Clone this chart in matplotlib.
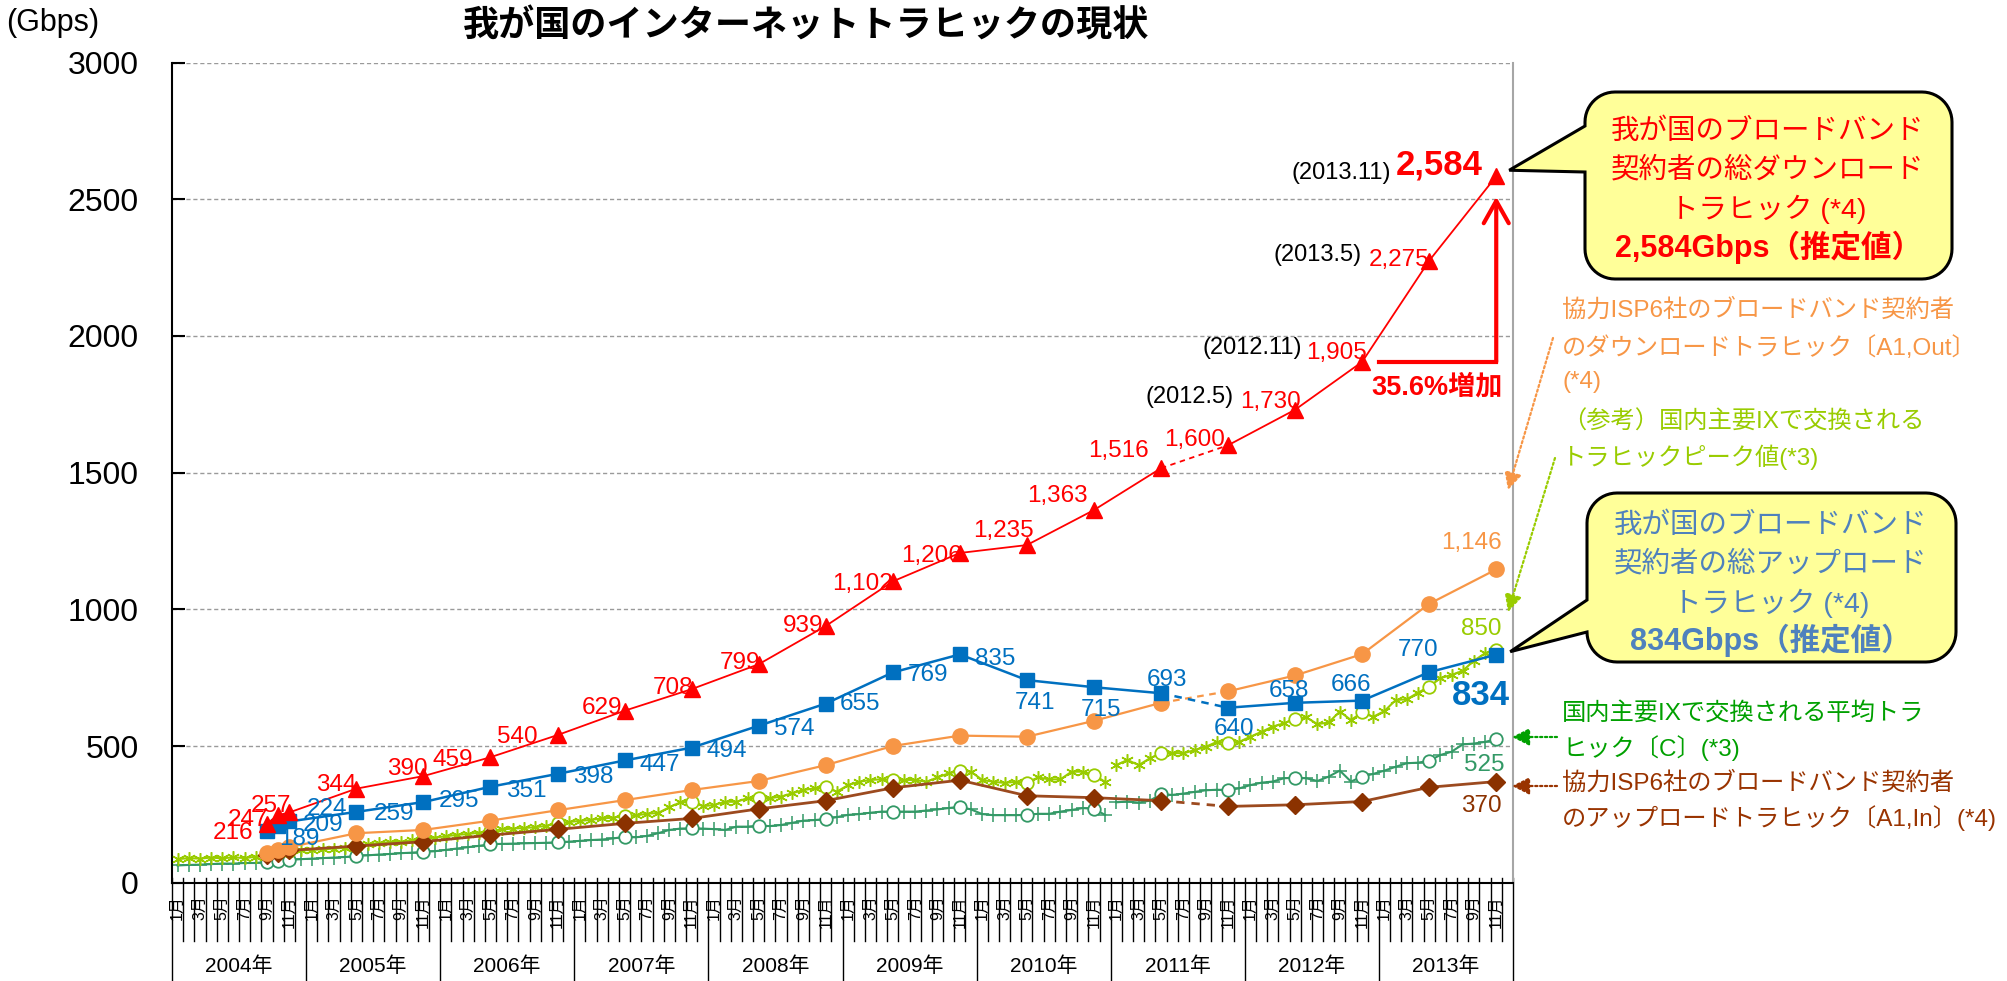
import numpy as np
import matplotlib.pyplot as plt
from matplotlib.patches import Polygon, FancyArrowPatch
from matplotlib.transforms import IdentityTransform

plt.rcParams['font.family'] = ['Liberation Sans', 'Noto Sans CJK JP']
JP = ['Noto Sans CJK JP', 'Liberation Sans']

# ---- data -------------------------------------------------------------
years = ['2004年', '2005年', '2006年', '2007年', '2008年',
         '2009年', '2010年', '2011年', '2012年', '2013年']
month_labels = ['1月', '', '3月', '', '5月', '', '7月', '', '9月', '', '11月', '']

# survey points (year.month)
survey = ['2004.9', '2004.10', '2004.11', '2005.5', '2005.11', '2006.5', '2006.11',
          '2007.5', '2007.11', '2008.5', '2008.11', '2009.5', '2009.11',
          '2010.5', '2010.11', '2011.5', '2011.11', '2012.5', '2012.11',
          '2013.5', '2013.11']
down_total = [216, 247, 257, 344, 390, 459, 540, 629, 708, 799, 939, 1102, 1206,
              1235, 1363, 1516, 1600, 1730, 1905, 2275, 2584]
up_total = [189, 209, 224, 259, 295, 351, 398, 447, 494, 574, 655, 769, 835,
            741, 715, 693, 640, 658, 666, 770, 834]
isp_down = [110, 121, 130, 181, 193, 227, 265, 302, 339, 372, 430, 500, 538,
            534, 592, 658, 700, 758, 836, 1020, 1146]
isp_up = [101, 108, 118, 134, 150, 174, 195, 217, 235, 270, 300, 347, 375,
          318, 311, 300, 279, 285, 297, 349, 370]

# monthly 2004.1 - 2013.11 (new IX set from 2011.1)
ix_peak = [86, 90, 88, 92, 89, 93, 90, 95, 108, 112, 115, 118,
           120, 122, 125, 128, 135, 140, 145, 148, 150, 155, 160, 165,
           170, 175, 178, 183, 189, 195, 198, 200, 203, 208, 217, 222,
           226, 230, 235, 238, 244, 246, 252, 255, 276, 294, 296, 280,
           284, 296, 296, 309, 309, 309, 315, 327, 339, 345, 349, 333,
           357, 369, 376, 378, 376, 376, 376, 369, 385, 400, 409, 406,
           376, 369, 365, 369, 366, 385, 378, 378, 406, 406, 394, 369,
           430, 449, 430, 455, 473, 475, 473, 485, 497, 515, 512, 515,
           534, 552, 571, 583, 599, 605, 580, 586, 626, 595, 623, 607,
           628, 668, 671, 695, 717, 748, 760, 775, 812, 839, 850]
ix_avg = [63, 65, 66, 68, 70, 70, 72, 72, 77, 79, 83, 86,
          88, 90, 92, 94, 98, 100, 103, 105, 108, 110, 113, 115,
          120, 125, 130, 135, 141, 142, 143, 144, 145, 146, 148, 150,
          153, 156, 158, 162, 168, 166, 171, 181, 193, 198, 199, 198,
          196, 193, 205, 205, 209, 207, 211, 219, 227, 229, 233, 240,
          248, 251, 256, 260, 260, 260, 260, 264, 268, 273, 278, 268,
          251, 247, 247, 247, 248, 252, 252, 260, 266, 273, 270, 248,
          294, 297, 293, 300, 324, 321, 326, 332, 338, 340, 339, 345,
          357, 366, 370, 382, 384, 382, 372, 388, 410, 370, 388, 398,
          410, 424, 437, 439, 446, 467, 479, 506, 509, 515, 525]

RED = '#FF0000'
BLUE = '#0070C0'
ORANGE = '#F79646'
BROWN = '#9C4A1F'
BROWN_M = '#8B3200'
LGREEN = '#99CC00'
DGREEN = '#339966'
BOXBLUE = '#4F81BD'

W, H = 2007, 981
AX_L, AX_R, AX_T, AX_B = 172, 1513, 62.5, 882.7

sx = [(int(s.split('.')[0]) - 2004) * 12 + int(s.split('.')[1]) - 1 for s in survey]
mx = np.arange(len(ix_peak))
ix_peak = np.array(ix_peak)
ix_avg = np.array(ix_avg)
semi = np.isin(mx, sx)

fig = plt.figure(figsize=(W / 100, H / 100), dpi=100)
ax = fig.add_axes([AX_L / W, 1 - AX_B / H, (AX_R - AX_L) / W, (AX_B - AX_T) / H])
ax.set_xlim(-0.5, 119.5)
ax.set_ylim(0, 3000)


def yfrac(ypix):
    return (AX_B - ypix) / (AX_B - AX_T)


# ---- monthly IX series ------------------------------------------------
for vals, col, mk, ms, z in [(ix_avg, DGREEN, '+', 10, 2), (ix_peak, LGREEN, (6, 2, 0), 9, 3)]:
    for seg in (slice(0, 84), slice(84, None)):
        ax.plot(mx[seg], vals[seg], color=col, lw=1.5, zorder=z)
    ax.plot(mx[~semi], vals[~semi], ls='none', marker=mk, ms=ms, mew=1.1, color=col, zorder=z)
    ax.plot(mx[semi], vals[semi], ls='none', marker='o', ms=9, mew=1.3, mfc='white', mec=col, zorder=z)


# ---- survey series ----------------------------------------------------
def survey_line(vals, col, lw, mk, ms, mcol, z):
    ax.plot(sx[:16], vals[:16], color=col, lw=lw, zorder=z)
    ax.plot(sx[15:17], vals[15:17], color=col, lw=lw, ls=(0, (3, 2.5)), zorder=z)
    ax.plot(sx[16:], vals[16:], color=col, lw=lw, zorder=z)
    ax.plot(sx, vals, ls='none', marker=mk, ms=ms, color=mcol, mec=mcol, zorder=z + 0.5)


survey_line(isp_up, BROWN, 2, 'D', 9, BROWN_M, 4)
survey_line(isp_down, ORANGE, 1.6, 'o', 11, ORANGE, 5)
survey_line(up_total, BLUE, 1.8, 's', 10, BLUE, 6)
survey_line(down_total, RED, 1.3, '^', 12, RED, 7)


# ---- data labels ------------------------------------------------------
def label(x, y, text, dx, dy, color, ha, size=17.5, weight='normal'):
    base = dy - 0.358 * size * 100 / 72
    ax.annotate(text, (x, y), xytext=(dx, base), textcoords='offset pixels',
                ha=ha, va='baseline', color=color, fontsize=size,
                fontweight=weight, zorder=10)


red_off = [(-14, -7), (-10, -2), (2, 9), (0, 6), (4, 10), (-17, 0), (-20, 1), (-2, 5),
           (2, 4), (2, 4), (-2, 3), (0, 0), (2, 0), (7, 17), (-6, 17), (-12, 20),
           (-3, 8), (6, 10), (5, 12), (0, 3)]
for k, (dx, dy) in enumerate(red_off):
    label(sx[k], down_total[k], f'{down_total[k]:,}', dx, dy, RED, 'right')
label(sx[20], down_total[20], f'{down_total[20]:,}', -14, 14, RED, 'right', 25, 'bold')

date_off = {17: (-61, 15), 18: (-60, 16), 19: (-68, 8), 20: (-105, 6)}
for k, (dx, dy) in date_off.items():
    label(sx[k], down_total[k], f'({survey[k]})', dx, dy, 'black', 'right', 17)

blue_left = [(12, -5), (25, 3), (17, 15), (17, 1), (15, 4), (16, -2), (16, 0), (15, -2),
             (15, -1), (15, -1), (14, 2), (15, 0), (15, -2)]
blue_center = [(8, -20), (7, -20), (6, 16), (6, -19), (-6, 15), (-11, 18), (-11, 25)]
for k, (dx, dy) in enumerate(blue_left):
    label(sx[k], up_total[k], f'{up_total[k]}', dx, dy, BLUE, 'left')
for k, (dx, dy) in enumerate(blue_center, start=13):
    label(sx[k], up_total[k], f'{up_total[k]}', dx, dy, BLUE, 'center')
label(sx[20], up_total[20], f'{up_total[20]}', -15, -38, BLUE, 'center', 25, 'bold')

label(sx[20], isp_down[20], f'{isp_down[20]:,}', -25, 29, ORANGE, 'center')
label(mx[-1], ix_peak[-1], f'{ix_peak[-1]}', -15, 24, LGREEN, 'center')
label(mx[-1], ix_avg[-1], f'{ix_avg[-1]}', -12, -23, DGREEN, 'center')
label(sx[20], isp_up[20], f'{isp_up[20]}', -15, -22, BROWN_M, 'center')

# growth bracket 2012.11 -> 2013.11
ax.plot([sx[18] + 1.5, sx[20]], [down_total[18]] * 2, color=RED, lw=3,
        solid_capstyle='projecting', zorder=8)
ax.annotate('', xy=(sx[20], down_total[20] - 75), xytext=(sx[20], down_total[18]),
            arrowprops=dict(arrowstyle='->,head_length=0.8,head_width=0.45', color=RED,
                            lw=3, shrinkA=0, shrinkB=0, mutation_scale=20), zorder=8)
ax.annotate('35.6%増加', (sx[18], down_total[18]), xytext=(9, -26), textcoords='offset pixels',
            ha='left', va='center', color=RED, fontsize=19.5, fontweight='bold', zorder=10)

# ---- axes styling -----------------------------------------------------
ax.set_yticks(range(0, 3001, 500))
ax.yaxis.grid(True, ls=(0, (3, 2)), color='#9A9A9A', lw=1)
ax.set_axisbelow(True)
ax.tick_params(axis='y', direction='in', length=9, width=1.5, pad=24, labelsize=23)
ax.set_xticks([])
ax.spines['top'].set_visible(False)
ax.spines['right'].set_color('#A6A6A6')
ax.spines['right'].set_linewidth(1.5)
ax.spines['left'].set_linewidth(1.5)
ax.spines['bottom'].set_linewidth(1.5)

# month / year category axis
xt = ax.get_xaxis_transform()
for b in range(121):
    bottom = yfrac(981) if b % 12 == 0 else yfrac(941)
    ax.plot([b - 0.5, b - 0.5], [yfrac(878), bottom], transform=xt, clip_on=False,
            color='black', lw=1)
for i in range(120):
    if month_labels[i % 12]:
        ax.text(i, yfrac(895), month_labels[i % 12], transform=xt, rotation=90,
                ha='center', va='top', fontsize=11.5)
for k, yl in enumerate(years):
    ax.text(12 * k + 5.5, yfrac(966), yl, transform=xt, ha='center', va='center',
            fontsize=15)

# ---- titles -----------------------------------------------------------
ident = IdentityTransform()
fig.text(806, H - 26, '我が国のインターネットトラヒックの現状', transform=ident,
         ha='center', va='center', fontsize=26, fontweight='bold', family=JP)
fig.text(6, H - 23, '(Gbps)', transform=ident, ha='left', va='center', fontsize=22)


# ---- callouts ---------------------------------------------------------
def callout(x0, y0, x1, y1, r, tip, ptop, pbot):
    Yt, Yb = H - y0, H - y1
    pts = []

    def arc(cx, cy, a0, a1):
        for a in np.radians(np.linspace(a0, a1, 14)):
            pts.append((cx + r * np.cos(a), cy + r * np.sin(a)))
    arc(x0 + r, Yb + r, 180, 270)
    arc(x1 - r, Yb + r, 270, 360)
    arc(x1 - r, Yt - r, 0, 90)
    arc(x0 + r, Yt - r, 90, 180)
    pts += [(x0, H - ptop), tip, (x0, H - pbot)]
    fig.add_artist(Polygon(pts, closed=True, transform=ident, fc='#FFFF99',
                           ec='black', lw=2.2, zorder=20))


def px_of(x, y):
    return ax.transData.transform((x, y))


tx, ty = px_of(sx[20], down_total[20])
callout(1585, 92, 1952, 279, 30, (tx + 13, ty + 6), 126, 172)
tx, ty = px_of(sx[20], up_total[20])
callout(1587, 493, 1956, 662, 30, (tx + 14, ty + 3), 600, 632)

box1 = ['我が国のブロードバンド', '契約者の総ダウンロード', 'トラヒック (*4)']
box2 = ['我が国のブロードバンド', '契約者の総アップロード', 'トラヒック (*4)']
for lines, last, col, cx, ys in [(box1, f'{down_total[20]:,}Gbps（推定値）', RED, 1768, [132, 170, 209, 247]),
                                 (box2, f'{up_total[20]}Gbps（推定値）', BOXBLUE, 1771, [526, 564, 603, 640])]:
    for s, yy in zip(lines, ys):
        fig.text(cx, H - yy, s, transform=ident, ha='center', va='center',
                 fontsize=20.5, color=col, zorder=21)
    fig.text(cx, H - ys[3], last, transform=ident, ha='center', va='center',
             fontsize=22, color=col, fontweight='bold', zorder=21)

# side notes
notes = [
    (ORANGE, [(310, '協力ISP6社のブロードバンド契約者'), (348, 'のダウンロードトラヒック〔A1,Out〕'), (382, '(*4)')]),
    (LGREEN, [(422, '（参考）国内主要IXで交換される'), (457, 'トラヒックピーク値(*3)')]),
    ('#00A000', [(713, '国内主要IXで交換される平均トラ'), (748, 'ヒック〔C〕(*3)')]),
    ('#993300', [(783, '協力ISP6社のブロードバンド契約者'), (818, 'のアップロードトラヒック〔A1,In〕(*4)')]),
]
for col, lines in notes:
    for yy, s in lines:
        fig.text(1562, H - yy, s, transform=ident, ha='left', va='center',
                 fontsize=17.5, color=col)

for col, a, b in [(ORANGE, (1553, 338), (1508, 490)), (LGREEN, (1555, 458), (1508, 612)),
                  ('#00A000', (1557, 737), (1512, 737)), ('#993300', (1557, 786), (1512, 786))]:
    fig.add_artist(FancyArrowPatch((a[0], H - a[1]), (b[0], H - b[1]), transform=ident,
                                   arrowstyle='-|>,head_length=0.7,head_width=0.35',
                                   mutation_scale=15, color=col, lw=1.6, ls=(0, (1, 1.2)),
                                   shrinkA=0, shrinkB=0, zorder=15))

fig.savefig('out.png', dpi=100)
